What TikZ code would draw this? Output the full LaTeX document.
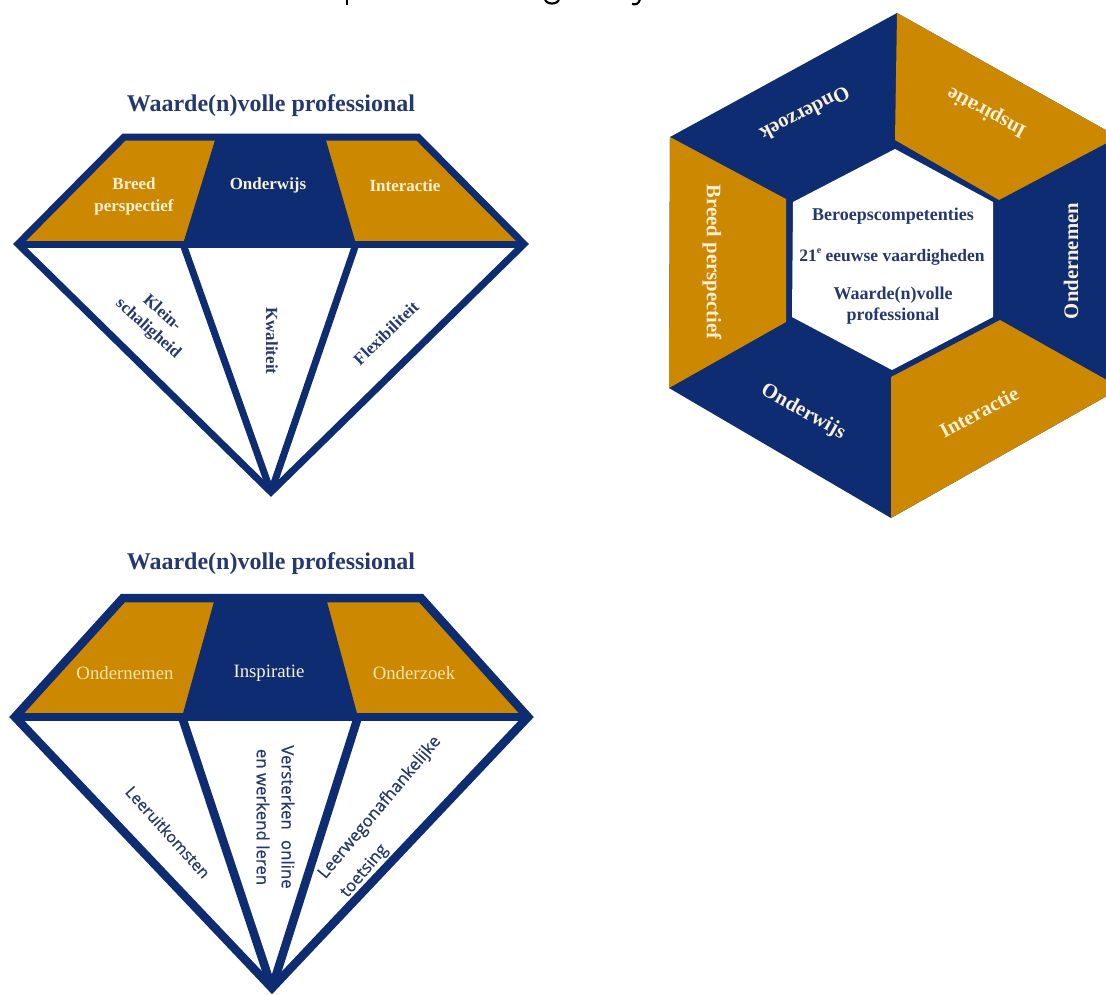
\documentclass[tikz,border=0pt]{standalone}
\usepackage{fontspec}
\setmainfont{Liberation Serif}
\newfontfamily\sansf[FakeBold=0.7]{Open Sans}
\definecolor{navy}{RGB}{14,44,113}
\definecolor{gold}{RGB}{204,136,0}
\definecolor{ink}{RGB}{38,56,112}
\definecolor{cream}{RGB}{250,240,215}
\definecolor{straw}{RGB}{247,228,175}
\tikzset{
 title/.style={font=\fontsize{24}{26}\selectfont\bfseries,text=ink,inner sep=0pt},
 band/.style={font=\fontsize{17}{22.5}\selectfont\bfseries,text=cream,align=center,inner sep=0pt},
 bandb/.style={font=\fontsize{18.8}{22}\selectfont,text=straw,align=center,inner sep=0pt},
 facet/.style={font=\fontsize{17}{21}\selectfont\bfseries,text=ink,align=center,inner sep=0pt},
 facets/.style={font=\sansf\fontsize{16.8}{25}\selectfont,text=ink,align=center,inner sep=0pt},
 hexin/.style={font=\fontsize{18}{21}\selectfont\bfseries,text=ink,align=center,inner sep=0pt},
 hexl/.style={font=\fontsize{20.7}{22}\selectfont\bfseries,text=cream,inner sep=0pt},
 edgeline/.style={draw=navy,line width=7pt,line join=miter},
 edgelineb/.style={draw=navy,line width=8.5pt,line join=miter},
 clipped/.style={draw=black,line width=2.2pt},
}
\begin{document}
\begin{tikzpicture}[x=1pt,y=-1pt]
\useasboundingbox (0,0) rectangle (1106,994);
\clip (0,0) rectangle (1106,994);
\fill[white] (0,0) rectangle (1106,994);
% clipped descenders of a cut-off line
\coordinate (p1) at (347,-1);\coordinate (p2) at (347,4.5);
\draw[clipped] (p1)--(p2);
\coordinate (q1) at (545,-1);\coordinate (q2) at (559,-1);
\draw[clipped] (q1) .. controls (546,5) and (558,5) .. (q2);
\coordinate (r1) at (640,-1);\coordinate (r2) at (632,4);
\draw[clipped] (r1) .. controls (639,4) and (636,5) .. (r2);
% diamond 1
\coordinate (a1) at (124,137);\coordinate (a2) at (418,137);\coordinate (a3) at (524,244);
\coordinate (a4) at (271,492);\coordinate (a5) at (18,244);
\coordinate (a6) at (183,244);\coordinate (a7) at (356,244);
\coordinate (a8) at (216,137);\coordinate (a9) at (325,137);
\fill[gold] (a1)--(a2)--(a3)--(a5)--cycle;
\fill[navy] (a8)--(a9)--(a7)--(a6)--cycle;
\draw[edgeline] (a1)--(a2)--(a3)--(a4)--(a5)--cycle;
\draw[edgeline] (a5)--(a3);
\draw[edgeline] (a6)--(a4);\draw[edgeline] (a7)--(a4);
\node[title] (t1) at (271,106) {Waarde(n)volle professional};
\node[band] (b1) at (134,196.5) {Breed\\perspectief};
\node[band] (b2) at (268,185.5) {Onderwijs};
\node[band] (b3) at (405,185.5) {Interactie};
\node[facet,rotate=-42] (f1) at (155,321) {Klein-\\schaligheid};
\node[facet,rotate=-90] (f2) at (272,341) {Kwaliteit};
\node[facet,rotate=44] (f3) at (386,333) {Flexibiliteit};
% diamond 2
\coordinate (c1) at (123,598);\coordinate (c2) at (421,598);\coordinate (c3) at (528,717);
\coordinate (c4) at (272,988);\coordinate (c5) at (15,717);
\coordinate (c6) at (182,717);\coordinate (c7) at (358,717);
\coordinate (c8) at (215,598);\coordinate (c9) at (326,598);
\fill[gold] (c1)--(c2)--(c3)--(c5)--cycle;
\fill[navy] (c8)--(c9)--(c7)--(c6)--cycle;
\draw[edgelineb] (c1)--(c2)--(c3)--(c4)--(c5)--cycle;
\draw[edgelineb] (c5)--(c3);
\draw[edgelineb] (c6)--(c4);\draw[edgelineb] (c7)--(c4);
\node[title] (t2) at (271,564) {Waarde(n)volle professional};
\node[bandb] (d1) at (125,673) {Ondernemen};
\node[bandb,text=cream] (d2) at (269,673) {Inspiratie};
\node[bandb] (d3) at (414,673) {Onderzoek};
\node[facets,font=\sansf\fontsize{16}{25}\selectfont,rotate=-48] (g1) at (168,832) {Leeruitkomsten};
\node[facets,rotate=-90] (g2) at (275.5,817) {Versterken\hspace{0.35em} online\\en werkend leren};
\node[facets,align=left,rotate=50,font=\sansf\fontsize{16.8}{29}\selectfont] (g3) at (391,817) {Leerwegonafhankelijke\\toetsing};
% hexagon
\coordinate (h1) at (897,13);\coordinate (h2) at (1118,137);\coordinate (h3) at (1121,388);
\coordinate (h4) at (891,518);\coordinate (h5) at (669,388);\coordinate (h6) at (670,137);
\coordinate (i1) at (895,140);\coordinate (i2) at (999,200);\coordinate (i3) at (1000,320);
\coordinate (i4) at (891,377);\coordinate (i5) at (786,322);\coordinate (i6) at (786,199);
\coordinate (w1) at (895,149);\coordinate (w2) at (993,202);\coordinate (w3) at (993,317);
\coordinate (w4) at (892,370);\coordinate (w5) at (792,317);\coordinate (w6) at (793,202);
\fill[navy] (h1)--(h2)--(h3)--(h4)--(h5)--(h6)--cycle;
\fill[gold] (h1)--(h2)--(i2)--(i1)--cycle;
\fill[gold] (h3)--(h4)--(i4)--(i3)--cycle;
\fill[gold] (h5)--(h6)--(i6)--(i5)--cycle;
\fill[white] (w1)--(w2)--(w3)--(w4)--(w5)--(w6)--cycle;
\node[hexin] (m1) at (893,216) {Beroepscompetenties};
\node[hexin,font=\fontsize{17.5}{24}\selectfont\bfseries] (m2) at (892,257) {21\raisebox{0.45em}{\fontsize{10}{10}\selectfont e} eeuwse vaardigheden};
\node[hexin] (m3) at (893,306) {Waarde(n)volle\\professional};
\node[hexl,rotate=-90] (s1) at (712,262) {Breed perspectief};
\node[hexl,rotate=90] (s2) at (1071,261) {Ondernemen};
\node[hexl,rotate=207] (s3) at (805,114) {Onderzoek};
\node[hexl,rotate=152] (s4) at (987,112) {Inspiratie};
\node[hexl,rotate=-29] (s5) at (803,412) {Onderwijs};
\node[hexl,rotate=28] (s6) at (979,412) {Interactie};
\end{tikzpicture}
\end{document}
